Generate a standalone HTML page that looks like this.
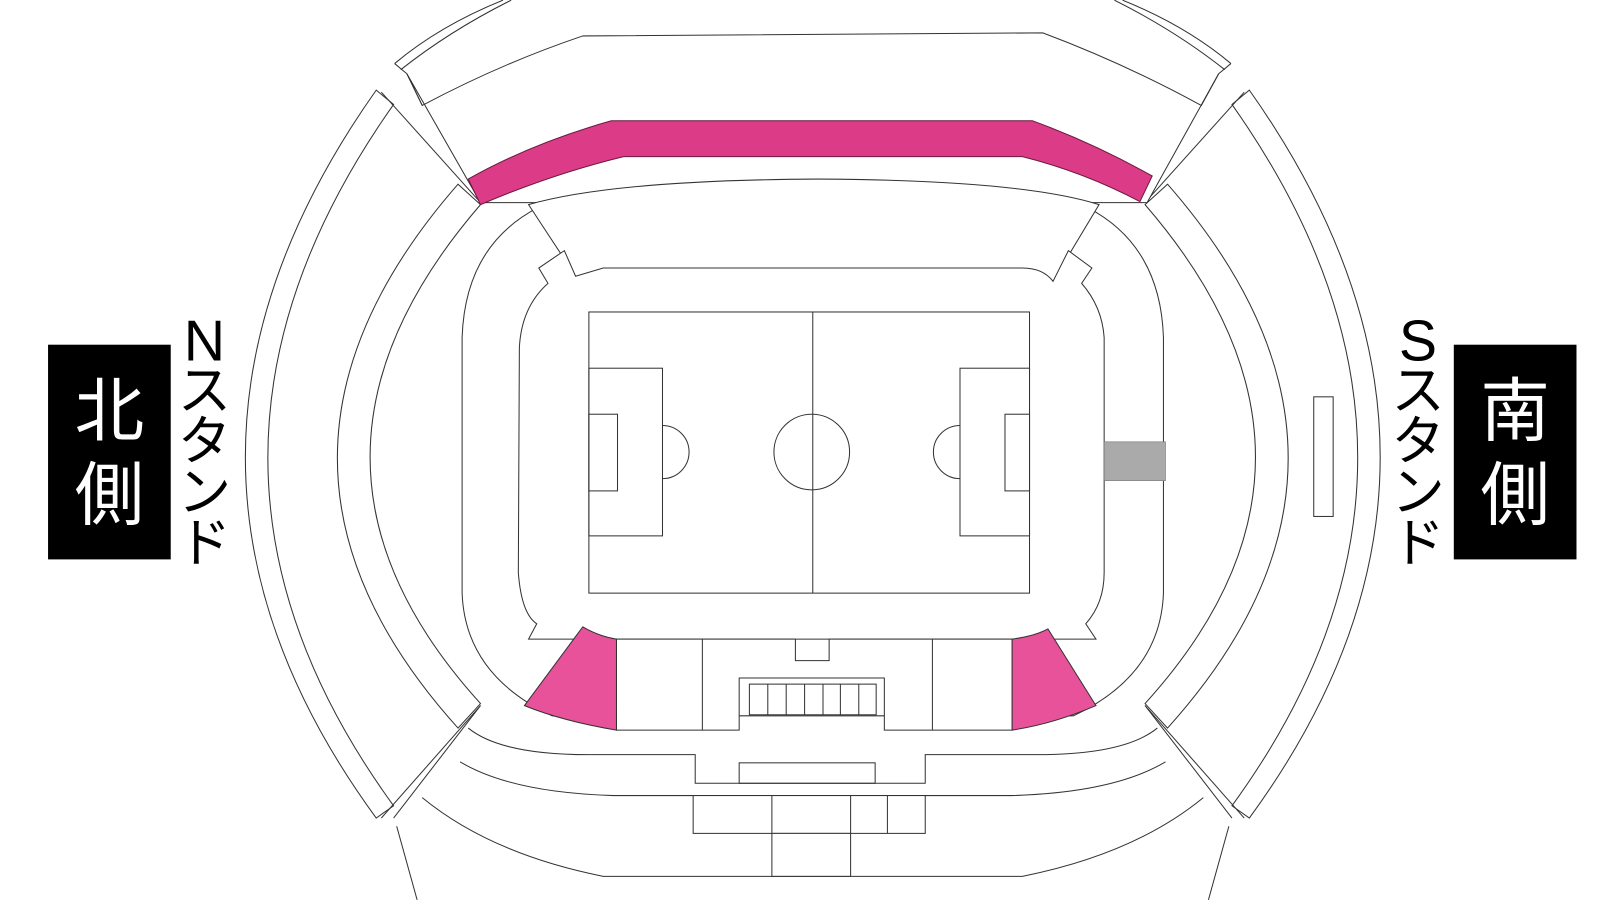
<!DOCTYPE html>
<html><head><meta charset="utf-8"><style>
html,body{margin:0;padding:0;background:#fff;}
svg{display:block}
.l{fill:#fff;stroke:#333;stroke-width:1}
.n{fill:none;stroke:#333;stroke-width:1}
text{font-family:"Liberation Sans","Noto Sans CJK JP",sans-serif;text-anchor:middle;dominant-baseline:central}
</style></head><body>
<svg width="1600" height="900" viewBox="0 0 1565 880" xmlns="http://www.w3.org/2000/svg">
<defs>
<g id="side">
  <path class="l" d="M368,88 Q112,450 368,800 L385,788 Q139,450 385,102 Z"/>
  <path class="l" d="M448,180 Q212,450 448,712 L470,688 Q254,450 470,200 Z"/>
  <path class="n" d="M373,90 L470,198"/>
  <path class="n" d="M373,800 L470,690"/>
</g>
</defs>
<use href="#side"/>
<use href="#side" transform="translate(1590,0) scale(-1,1)"/>

<!-- top outer double arc -->
<path class="n" d="M386,62 Q430,25 492,0"/>
<path class="n" d="M392,68 Q440,30 500,0"/>
<path class="n" d="M1204,62 Q1160,25 1098,0"/>
<path class="n" d="M1198,68 Q1150,30 1090,0"/>
<path class="n" d="M386,62 L398,72 M1204,62 L1192,72"/>
<!-- top stand -->
<path class="l" d="M398,72 L470,198 L1122,198 L1192,72 L1175,103 Q1100,62 1020,32 L570,35 Q490,62 413,103 Z"/>
<path class="n" d="M398,72 L413,103 M1192,72 L1175,103"/>
<path d="M458,175 Q520,140 598,118 L1010,118 Q1070,140 1127,172 L1115,197 Q1060,168 1000,153 L610,153 Q540,170 470,200 Z" fill="#dc3c87" stroke="#6a1a40" stroke-width="1"/>

<!-- bottom stand -->
<path class="n" d="M470,690 L385,800 M1120,690 L1205,800"/>
<path class="n" d="M388,808 L408,880 M1202,808 L1182,880"/>
<path class="n" d="M413,780 Q480,835 590,857 L1000,857 Q1110,835 1177,780"/>
<path class="n" d="M450,745 Q500,775 600,778 L990,778 Q1090,775 1140,745"/>
<path class="n" d="M458,712 Q490,738 575,738 L680,738 L680,766 L905,766 L905,738 L1015,738 Q1100,738 1132,712"/>
<rect class="n" x="723" y="746" width="133" height="20"/>

<!-- tier 3 rounded area -->
<path class="l" d="M526,203 Q455,240 452,330 L452,580 Q455,660 540,700 L1050,700 Q1135,660 1138,580 L1138,330 Q1135,240 1064,203 Q1000,178 800,176 Q600,178 526,203 Z"/>
<path class="l" d="M517,200 L563,270 L1030,275 L1075,200 Q1000,176 800,175 Q600,176 517,200 Z"/>
<!-- inner bowl -->
<path class="l" d="M552,245 L527,262 L536,277 Q510,300 508,340 L507,560 Q510,600 525,610 L517,625 L1072,625 L1062,610 Q1080,590 1080,560 L1080,330 Q1078,300 1058,277 L1068,262 L1045,245 L1030,275 Q1020,262 1000,262 L590,262 L563,270 Z"/>

<!-- field -->
<rect class="l" x="576" y="305" width="431" height="275"/>
<line class="n" x1="795" y1="305" x2="795" y2="580"/>
<circle class="n" cx="794" cy="442" r="37"/>
<rect class="n" x="576" y="360" width="72" height="164"/>
<rect class="n" x="576" y="405" width="28" height="75"/>
<path class="n" d="M648,416 A26,26 0 0 1 648,468"/>
<rect class="n" x="939" y="360" width="68" height="164"/>
<rect class="n" x="983" y="405" width="24" height="75"/>
<path class="n" d="M939,416 A26,26 0 0 0 939,468"/>

<rect x="1080" y="432" width="60" height="38" fill="#aaa" stroke="#777" stroke-width="0.6"/>
<rect class="l" x="1285" y="388" width="19" height="117"/>

<!-- bottom seating row -->
<path class="l" d="M603,625 L778,625 L778,646 L811,646 L811,625 L990,625 L990,714 L865,714 L865,663 L723,663 L723,714 L603,714 Z"/>
<line class="n" x1="687" y1="625" x2="687" y2="714"/>
<line class="n" x1="912" y1="625" x2="912" y2="714"/>
<rect class="n" x="733" y="669" width="124" height="30"/>
<path class="n" d="M751,669V699M769,669V699M787,669V699M805,669V699M822,669V699M840,669V699"/>
<path d="M513,690 L570,613 Q585,622 603,625 L603,714 Q550,705 513,690 Z" fill="#e8529a" stroke="#333"/>
<path d="M990,625 Q1012,622 1025,615 L1072,690 Q1030,708 990,714 Z" fill="#e8529a" stroke="#333"/>

<!-- lower boxes -->
<rect class="l" x="678" y="778" width="227" height="37"/>
<path class="n" d="M755,778V815M832,778V815M868,778V815"/>
<rect class="l" x="755" y="815" width="77" height="42"/>

<!-- labels -->
<rect x="47" y="337" width="120" height="210" fill="#000"/>
<text x="107" y="402" font-size="68" fill="#fff">北</text>
<text x="107" y="484" font-size="68" fill="#fff">側</text>
<text x="200" y="334" font-size="56" fill="#000">N</text>
<text x="200" y="383" font-size="52" fill="#000">ス</text>
<text x="200" y="432" font-size="52" fill="#000">タ</text>
<text x="200" y="482" font-size="52" fill="#000">ン</text>
<text x="200" y="532" font-size="52" fill="#000">ド</text>

<rect x="1422" y="337" width="120" height="210" fill="#000"/>
<text x="1482" y="402" font-size="68" fill="#fff">南</text>
<text x="1482" y="484" font-size="68" fill="#fff">側</text>
<text x="1387" y="334" font-size="56" fill="#000">S</text>
<text x="1387" y="383" font-size="52" fill="#000">ス</text>
<text x="1387" y="432" font-size="52" fill="#000">タ</text>
<text x="1387" y="482" font-size="52" fill="#000">ン</text>
<text x="1387" y="532" font-size="52" fill="#000">ド</text>
</svg>
</body></html>
